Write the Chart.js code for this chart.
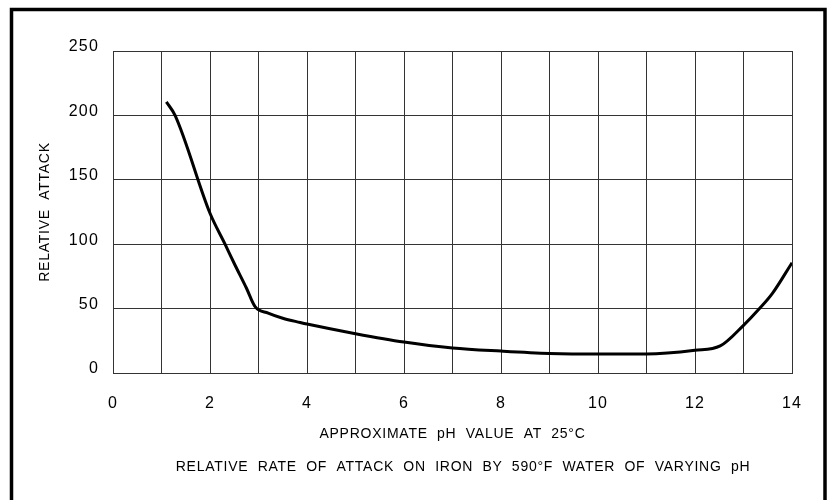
<!DOCTYPE html>
<html>
<head>
<meta charset="utf-8">
<script src="https://cdn.jsdelivr.net/npm/chart.js@4.4.1/dist/chart.umd.min.js"></script>
<style>
  html, body { margin: 0; padding: 0; background: #fff; }
  #wrap { width: 830px; height: 500px; position: relative; }
</style>
</head>
<body>
<div id="wrap"><canvas id="c" width="830" height="500"></canvas></div>
<script>
// ---- data ----
const phValues = [1.10, 1.28, 2.0, 2.31, 2.5, 2.75, 2.93, 3.2, 3.5, 3.86, 4, 5, 6, 7, 8, 9, 10, 11, 12, 12.52, 13, 13.33, 13.6, 14];
const relativeAttack = [210.5, 200, 124, 100, 85, 66, 51.5, 46.5, 42.5, 39.2, 38, 30.5, 24, 19.4, 17, 15.2, 14.7, 14.7, 17.6, 21, 37, 50, 62, 85.6];
const xTicks = [0, 2, 4, 6, 8, 10, 12, 14];
const yTicks = [0, 50, 100, 150, 200, 250];
const xTitle = 'APPROXIMATE  pH  VALUE  AT  25\u00B0C';
const yTitle = 'RELATIVE  ATTACK';
const caption = 'RELATIVE  RATE  OF  ATTACK  ON  IRON  BY  590\u00B0F  WATER  OF  VARYING  pH';

const FONT = '"Liberation Sans", Arial, sans-serif';

const textPlugin = {
  id: 'frameAndText',
  beforeDraw(chart) {
    const ctx = chart.ctx;
    ctx.save();
    ctx.fillStyle = '#fff';
    ctx.fillRect(0, 0, chart.width, chart.height);
    ctx.restore();
    ctx.letterSpacing = '1.2px';
  },
  afterDraw(chart) {
    const ctx = chart.ctx;
    const area = chart.chartArea;
    ctx.save();
    // outer frame
    ctx.strokeStyle = '#000';
    ctx.lineWidth = 3.5;
    ctx.strokeRect(11.5, 9.5, 813.5, 600);
    // titles
    ctx.fillStyle = '#000';
    ctx.font = '14px ' + FONT;
    ctx.letterSpacing = '0.75px';
    ctx.textAlign = 'center';
    ctx.textBaseline = 'middle';
    const cx = (area.left + area.right) / 2;
    ctx.fillText(xTitle, cx, 434);
    ctx.fillText(caption, 463, 467);
    ctx.translate(45, (area.top + area.bottom) / 2);
    ctx.rotate(-Math.PI / 2);
    ctx.fillText(yTitle, 0, 0);
    ctx.restore();
  }
};

new Chart(document.getElementById('c'), {
  type: 'line',
  data: {
    datasets: [{
      data: phValues.map((x, i) => ({ x: x, y: relativeAttack[i] })),
      borderColor: '#000',
      borderWidth: 3,
      pointRadius: 0,
      cubicInterpolationMode: 'monotone',
      fill: false
    }]
  },
  options: {
    responsive: false,
    animation: false,
    devicePixelRatio: 1,
    layout: { padding: { left: 0, right: 38, top: 51, bottom: 0 } },
    plugins: { legend: { display: false }, tooltip: { enabled: false } },
    scales: {
      x: {
        type: 'linear',
        min: 0, max: 14,
        afterFit(scale) { scale.height = 127; },
        afterBuildTicks(scale) {
          scale.ticks = [];
          for (let v = 0; v <= 14; v++) scale.ticks.push({ value: v });
        },
        grid: { color: '#333', lineWidth: 1, drawTicks: false },
        border: { color: '#333', width: 1 },
        ticks: {
          autoSkip: false,
          padding: 21,
          color: '#000',
          font: { family: FONT, size: 16 },
          maxRotation: 0,
          callback: (v) => xTicks.includes(v) ? String(v) : ''
        }
      },
      y: {
        type: 'linear',
        min: 0, max: 250,
        afterFit(scale) { scale.width = 113; },
        afterBuildTicks(scale) { scale.ticks = yTicks.map(v => ({ value: v })); },
        grid: { color: '#333', lineWidth: 1, drawTicks: false },
        border: { color: '#333', width: 1 },
        ticks: {
          padding: 14,
          labelOffset: -4,
          color: '#000',
          font: { family: FONT, size: 16 }
        }
      }
    }
  },
  plugins: [textPlugin]
});
</script>
</body>
</html>
